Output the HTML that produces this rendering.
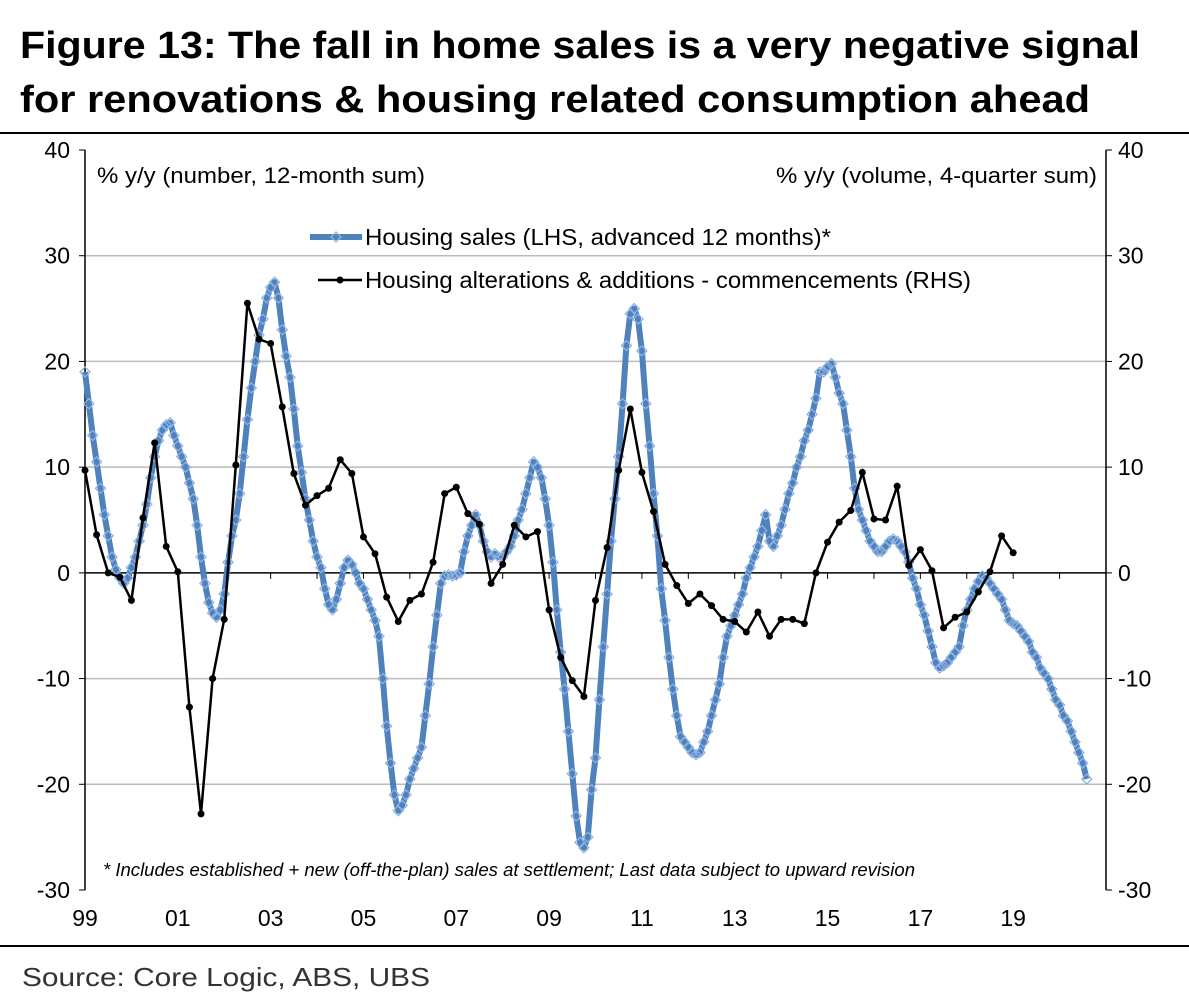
<!DOCTYPE html>
<html><head><meta charset="utf-8">
<style>
body{margin:0;background:#fff;width:1189px;height:1002px;overflow:hidden;font-family:"Liberation Sans",sans-serif;}
svg{position:absolute;left:0;top:0;font-family:"Liberation Sans",sans-serif;}
</style></head>
<body>
<svg id="chart" width="1189" height="1002">
<text x="20" y="58" font-size="38" font-weight="bold" textLength="1120" lengthAdjust="spacingAndGlyphs">Figure 13: The fall in home sales is a very negative signal</text>
<text x="20" y="112" font-size="38" font-weight="bold" textLength="1070" lengthAdjust="spacingAndGlyphs">for renovations &amp; housing related consumption ahead</text>
<text x="22" y="986" font-size="26" fill="#333" textLength="408" lengthAdjust="spacingAndGlyphs">Source: Core Logic, ABS, UBS</text>
</svg>
<script>
const yTicks=[40,30,20,10,0,-10,-20,-30];
const xLabels=["99","01","03","05","07","09","11","13","15","17","19"];
const xLabelYears=[1999,2001,2003,2005,2007,2009,2011,2013,2015,2017,2019];
const salesStart=1999;
const sales=[19,16,13,10.5,8,5.5,3.5,1.5,0.3,-0.5,-1,-0.5,
0.5,1.5,3,4.5,6.5,9,11,12.5,13.5,14,14.2,13,
12,11,10,8.5,7,4.5,1.5,-1,-2.8,-3.8,-4.2,-3.5,
-2,1,3.5,5,7.5,11,14.5,17.5,20,22.5,24,26,
27,27.5,26,23,20.5,18.5,15.5,12,9.5,7,5,3,
1.5,0.5,-1.5,-3,-3.5,-2.5,-1,0.5,1.2,0.8,0,-1,
-1.5,-2.5,-3.5,-4.5,-6,-10,-14.5,-18,-21,-22.5,-22,-21,
-19.5,-18.5,-17.5,-16.5,-13.5,-10.5,-7,-4,-1,-0.3,-0.2,-0.3,
-0.2,0,2,3.5,4.5,5.5,4.5,3,2,1.5,1.8,1.5,
1.5,2,2.5,3.5,5,6,7.5,9,10.5,10,9,7,
4.5,1,-3.5,-7.5,-11,-15,-19,-23,-25.5,-26,-25,-20.5,
-17.5,-12,-7,-2,3,7,11,16,21.5,24.5,25,24,
21,16,12,7.5,3.5,-1.5,-4.5,-8,-11,-13.5,-15.5,-16,
-16.5,-17,-17.2,-17,-16,-15,-13.5,-12,-10.5,-8,-6,-5,
-4,-3,-2,-0.5,0.5,1.5,2.5,4,5.5,3,2.5,3.5,
4.5,6,7.5,8.5,10,11,12.5,13.5,15,16.5,19,19,
19.5,19.8,18.5,17,16,13.5,11,8,6,5,4,3,
2.5,2,2,2.5,3,3.2,3,2.5,2,1,-0.5,-1.5,
-3,-4,-5.5,-7,-8.5,-9,-8.8,-8.5,-8,-7.5,-7,-5,
-3.5,-2.5,-1.5,-0.8,-0.3,-0.5,-1,-1.5,-2,-2.5,-3.5,-4.5,
-4.8,-5,-5.5,-6,-6.5,-7.5,-8,-9,-9.5,-10,-11,-12,
-12.5,-13.5,-14,-15,-16,-17,-18,-19.5];
const alterStart=1999;
const alter=[9.7,3.6,0,-0.4,-2.6,5.2,12.3,2.5,0.1,-12.7,
-22.8,-10,-4.4,10.2,25.5,22.1,21.7,15.7,9.4,6.4,
7.3,8.0,10.7,9.4,3.4,1.8,-2.3,-4.6,-2.6,-2.0,
1.0,7.5,8.1,5.6,4.6,-1.0,0.8,4.5,3.4,3.9,
-3.5,-8.0,-10.2,-11.7,-2.6,2.4,9.7,15.5,9.5,5.8,
0.8,-1.2,-2.9,-2.0,-3.1,-4.4,-4.6,-5.6,-3.7,-6.0,
-4.4,-4.4,-4.8,0,2.9,4.8,5.9,9.5,5.1,5.0,
8.2,0.7,2.2,0.2,-5.2,-4.2,-3.7,-1.8,0.1,3.5,1.9];

const L=85,R=1106,T=150,B=890;
const X=t=>L+(t-1999)*(R-L)/22;
const Y=v=>T+(40-v)*(B-T)/70;
const svg=document.getElementById('chart');
const NS='http://www.w3.org/2000/svg';
function mk(tag,attrs,parent){const e=document.createElementNS(NS,tag);for(const k in attrs)e.setAttribute(k,attrs[k]);(parent||svg).appendChild(e);return e;}
let e;
e=mk('line',{x1:0,x2:1189,y1:133,y2:133,stroke:'#000','stroke-width':2});


e=mk('line',{x1:0,x2:1189,y1:946,y2:946,stroke:'#000','stroke-width':2});


yTicks.forEach(v=>{
 if(v!==40&&v!==0&&v!==-30){e=mk('line',{x1:L,x2:R,y1:Y(v),y2:Y(v),stroke:'#bbb','stroke-width':1.5});
 
 }
 e=mk('text',{x:70,y:Y(v)+8,'text-anchor':'end','font-size':23,fill:'#000'});e.textContent=v;
 
 
 e=mk('text',{x:1118,y:Y(v)+8,'text-anchor':'start','font-size':23,fill:'#000'});e.textContent=v;
 
 
 mk('line',{x1:L-6,x2:L,y1:Y(v),y2:Y(v),stroke:'#000'});
 mk('line',{x1:R,x2:R+6,y1:Y(v),y2:Y(v),stroke:'#000'});
});
e=mk('line',{x1:L,x2:L,y1:T,y2:B,stroke:'#000','stroke-width':1.5});


e=mk('line',{x1:R,x2:R,y1:T,y2:B,stroke:'#000','stroke-width':1.5});


e=mk('line',{x1:L,x2:R,y1:Y(0),y2:Y(0),stroke:'#000','stroke-width':1.5});


for(let yr=1999;yr<=2021;yr++){mk('line',{x1:X(yr),x2:X(yr),y1:Y(0),y2:Y(0)+6,stroke:'#000'});}
xLabels.forEach((s,i)=>{e=mk('text',{x:X(xLabelYears[i]),y:926,'text-anchor':'middle','font-size':23});e.textContent=s;
 
 });
e=mk('text',{x:97,y:183,'font-size':22,textLength:328,lengthAdjust:'spacingAndGlyphs'});e.textContent='% y/y (number, 12-month sum)';


e=mk('text',{x:776,y:183,'font-size':22,textLength:321,lengthAdjust:'spacingAndGlyphs'});e.textContent='% y/y (volume, 4-quarter sum)';


e=mk('text',{x:103,y:876,'font-size':18,'font-style':'italic',textLength:812,lengthAdjust:'spacingAndGlyphs'});e.textContent='* Includes established + new (off-the-plan) sales at settlement; Last data subject to upward revision';


const sp=sales.map((v,i)=>X(salesStart+i/12).toFixed(1)+','+Y(v).toFixed(1)).join(' ');
e=mk('polyline',{points:sp,fill:'none',stroke:'#4f81bd','stroke-width':6,'stroke-linejoin':'round'});


const gS=mk('g',{});


sales.forEach((v,i)=>{const x=X(salesStart+i/12),y=Y(v);
 mk('polygon',{points:`${x},${y-5} ${x+5},${y} ${x},${y+5} ${x-5},${y}`,fill:'none',stroke:'#8db3e2','stroke-width':1.3},gS);});
const ap=alter.map((v,i)=>X(alterStart+i/4).toFixed(1)+','+Y(v).toFixed(1)).join(' ');
e=mk('polyline',{points:ap,fill:'none',stroke:'#000','stroke-width':2.5});


alter.forEach((v,i)=>{e=mk('circle',{cx:X(alterStart+i/4),cy:Y(v),r:3.5,fill:'#000'});
 
 });
e=mk('line',{x1:310,x2:362,y1:237,y2:237,stroke:'#4f81bd','stroke-width':6});


mk('polygon',{points:'336,232 341,237 336,242 331,237',fill:'none',stroke:'#8db3e2','stroke-width':1.3});
e=mk('text',{x:365,y:245,'font-size':23,textLength:466,lengthAdjust:'spacingAndGlyphs'});e.textContent='Housing sales (LHS, advanced 12 months)*';


e=mk('line',{x1:318,x2:362,y1:280,y2:280,stroke:'#000','stroke-width':2.5});


mk('circle',{cx:340,cy:280,r:3.5,fill:'#000'});
e=mk('text',{x:365,y:288,'font-size':23,textLength:606,lengthAdjust:'spacingAndGlyphs'});e.textContent='Housing alterations & additions - commencements (RHS)';


</script>
</body></html>
